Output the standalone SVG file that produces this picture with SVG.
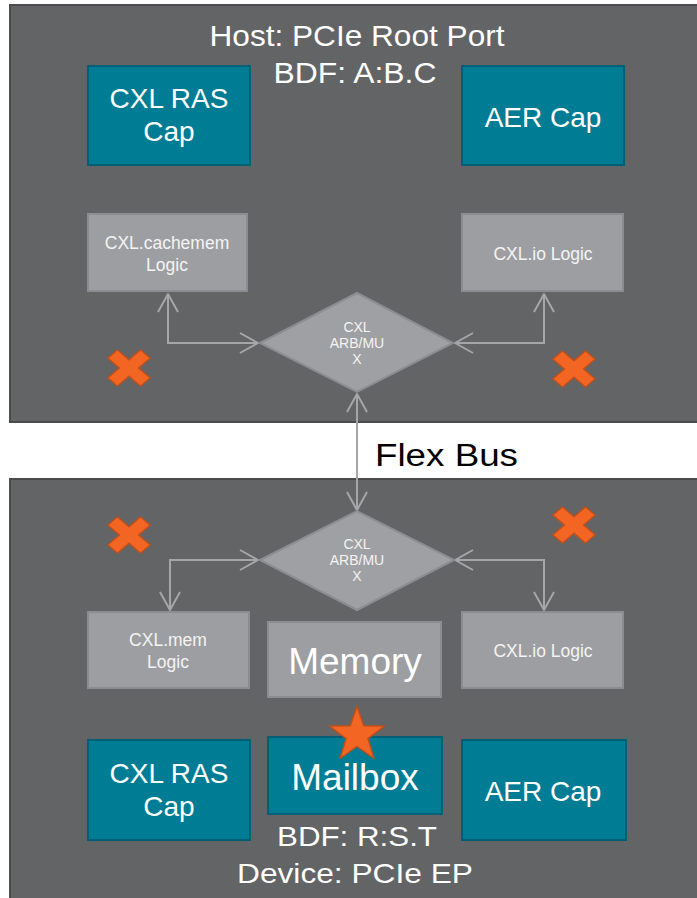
<svg xmlns="http://www.w3.org/2000/svg" width="697" height="898" viewBox="0 0 697 898">
<style>
.panel{fill:#636466;stroke:#4b4b4d;stroke-width:2}
.teal{fill:#007c95;stroke:#005f74;stroke-width:2}
.logic{fill:#9d9ea1;stroke:#8c8d90;stroke-width:2}
.dia{fill:#9fa0a3;stroke:#8c8d90;stroke-width:2}
.conn{fill:none;stroke:#a5a6a8;stroke-width:2}
.mark{fill:#f26522;stroke:#bf4f1b;stroke-width:1.5;stroke-linejoin:round}
text{font-family:"Liberation Sans",Arial,sans-serif;fill:#ffffff;text-anchor:middle}
.big{font-size:28px}
.title{font-size:30px}
.small{font-size:17.5px;fill:#f4f4f4}
.tiny{font-size:14px;fill:#f4f4f4}
</style>
<defs>
<marker id="arr" viewBox="-21 -12 23 24" refX="0" refY="0" markerWidth="23" markerHeight="24" markerUnits="userSpaceOnUse" orient="auto-start-reverse">
<path d="M-18,-10 L0,0 L-18,10" fill="none" stroke="#a5a6a8" stroke-width="2" stroke-linejoin="round"/>
</marker>
<path id="cross" d="M6.5,-22 L6.5,-6.5 L22,-6.5 L22,6.5 L6.5,6.5 L6.5,22 L-6.5,22 L-6.5,6.5 L-22,6.5 L-22,-6.5 L-6.5,-6.5 L-6.5,-22 Z"/>
</defs>

<g id="host-panel">
<rect class="panel" x="10" y="5" width="700" height="417"/>
<text class="title" x="357" y="46" textLength="295" lengthAdjust="spacingAndGlyphs">Host: PCIe Root Port</text>
<text class="title" x="355" y="83" textLength="163" lengthAdjust="spacingAndGlyphs">BDF: A:B.C</text>
</g>
<g id="device-panel">
<rect class="panel" x="10" y="479" width="700" height="430"/>
<text class="big" x="357" y="846" textLength="160" lengthAdjust="spacingAndGlyphs">BDF: R:S.T</text>
<text class="big" x="355" y="883" textLength="236" lengthAdjust="spacingAndGlyphs">Device: PCIe EP</text>
</g>

<text x="375" y="466" style="font-size:31px;fill:#000;text-anchor:start" textLength="143" lengthAdjust="spacingAndGlyphs">Flex Bus</text>

<g id="connectors">
<path class="conn" d="M168,294 V343 H258" marker-start="url(#arr)" marker-end="url(#arr)"/>
<path class="conn" d="M544,294 V343 H455" marker-start="url(#arr)" marker-end="url(#arr)"/>
<path class="conn" d="M357,394 V510" marker-start="url(#arr)" marker-end="url(#arr)"/>
<path class="conn" d="M258,560 H170 V610" marker-start="url(#arr)" marker-end="url(#arr)"/>
<path class="conn" d="M455,560 H544 V610" marker-start="url(#arr)" marker-end="url(#arr)"/>
</g>

<g id="host-cxl-ras-cap">
<rect class="teal" x="88" y="66" width="162" height="99"/>
<text class="big" x="169" y="108">CXL RAS</text>
<text class="big" x="169" y="141">Cap</text>
</g>
<g id="host-aer-cap">
<rect class="teal" x="462" y="66" width="162" height="99"/>
<text class="big" x="543" y="127">AER Cap</text>
</g>
<g id="host-cachemem-logic">
<rect class="logic" x="88" y="214" width="159" height="77"/>
<text class="small" x="167" y="249">CXL.cachemem</text>
<text class="small" x="167" y="271">Logic</text>
</g>
<g id="host-io-logic">
<rect class="logic" x="462" y="214" width="161" height="77"/>
<text class="small" x="543" y="260">CXL.io Logic</text>
</g>
<g id="host-arbmux">
<polygon class="dia" points="260,343 357,293 453,343 357,392"/>
<text class="tiny" x="357" y="332">CXL</text>
<text class="tiny" x="357" y="348">ARB/MU</text>
<text class="tiny" x="357" y="364">X</text>
</g>

<g id="device-arbmux">
<polygon class="dia" points="260,560 357,511 454,560 357,610"/>
<text class="tiny" x="357" y="549">CXL</text>
<text class="tiny" x="357" y="565">ARB/MU</text>
<text class="tiny" x="357" y="581">X</text>
</g>
<g id="device-mem-logic">
<rect class="logic" x="88" y="612" width="161" height="76"/>
<text class="small" x="168" y="646">CXL.mem</text>
<text class="small" x="168" y="668">Logic</text>
</g>
<g id="device-memory">
<rect class="logic" x="268" y="622" width="173" height="75"/>
<text x="355" y="674" style="font-size:37px">Memory</text>
</g>
<g id="device-io-logic">
<rect class="logic" x="462" y="612" width="161" height="76"/>
<text class="small" x="543" y="657">CXL.io Logic</text>
</g>
<g id="device-cxl-ras-cap">
<rect class="teal" x="88" y="740" width="162" height="100"/>
<text class="big" x="169" y="783">CXL RAS</text>
<text class="big" x="169" y="816">Cap</text>
</g>
<g id="device-mailbox">
<rect class="teal" x="268" y="737" width="174" height="77"/>
<text x="355" y="790" style="font-size:37px">Mailbox</text>
</g>
<g id="device-aer-cap">
<rect class="teal" x="462" y="740" width="164" height="100"/>
<text class="big" x="543" y="801">AER Cap</text>
</g>

<g id="markers">
<use href="#cross" class="mark" transform="translate(129,368) scale(1.05,0.9) rotate(45)"/>
<use href="#cross" class="mark" transform="translate(574,369) scale(1.05,0.9) rotate(45)"/>
<use href="#cross" class="mark" transform="translate(129,535) scale(1.05,0.9) rotate(45)"/>
<use href="#cross" class="mark" transform="translate(574,525) scale(1.05,0.9) rotate(45)"/>
<polygon class="mark" points="357,706 363.8,725.7 384.6,726 367.9,738.6 374,758.5 357,746.5 340,758.5 346.1,738.6 329.4,726 350.2,725.7"/>
</g>
</svg>
